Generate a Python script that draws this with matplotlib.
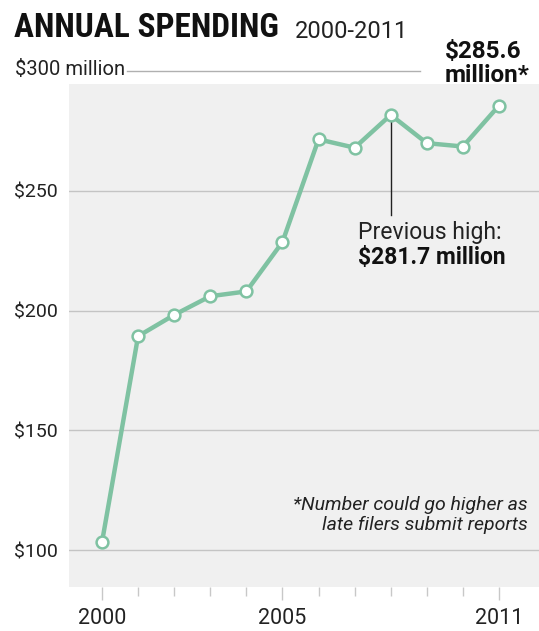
import matplotlib
matplotlib.use("Agg")
import matplotlib.pyplot as plt

# annual spending, $ millions
years = [2000, 2001, 2002, 2003, 2004, 2005, 2006, 2007, 2008, 2009, 2010, 2011]
spending = [103.3, 189.3, 198.2, 206.0, 208.0, 228.6, 271.5, 268.0, 281.7, 269.9, 268.5, 285.6]
ytick_vals = [100, 150, 200, 250]
ytick_labels = ["$100", "$150", "$200", "$250"]
xtick_major = [2000, 2005, 2011]

green = "#7fc2a2"
plt.rcParams['font.family'] = ['Roboto', 'DejaVu Sans']

fig = plt.figure(figsize=(5.39, 6.31), dpi=100)
W, H = 539, 631
ax = fig.add_axes([69 / W, 1 - 587 / H, 470 / W, (587 - 84) / H])
ax.set_facecolor("#f0f0f0")
for s in ax.spines.values():
    s.set_visible(False)

ax.set_xlim(1999.086, 2012.108)
ax.set_ylim(84.6, 294.6)

for v in ytick_vals:
    ax.axhline(v, color="#c4c4c4", lw=1, zorder=1)
# $300 line sits above the shaded area
ax.axhline(300, xmin=(127 - 69) / 470, xmax=(420 - 69) / 470, color="#b0b0b0", lw=1, clip_on=False)

ax.set_yticks(ytick_vals)
ax.set_yticklabels(ytick_labels, fontsize=14, color="#222222")
ax.tick_params(axis="y", length=0, pad=8)

ax.set_xticks(xtick_major)
ax.set_xticklabels([str(x) for x in xtick_major], fontsize=15.5, color="#222222")
ax.set_xticks(years, minor=True)
ax.tick_params(axis="x", which="major", length=9, width=1, color="#c8c8c8", pad=6)
ax.tick_params(axis="x", which="minor", length=6.5, width=1, color="#c8c8c8")

ax.plot(years, spending, color=green, lw=3.2, marker="o", ms=8.5,
        mfc="white", mec=green, mew=1.8, zorder=3, clip_on=False)

# previous high callout
ax.plot([2008, 2008], [281.7, 240], color="#222222", lw=1, zorder=2)
ax.text(2007.1, 232.5, "Previous high:", fontsize=16.5, color="#222222", va="center")
ax.text(2007.1, 222.1, "$281.7 million", fontsize=16.5, fontweight="bold", color="#111111", va="center")

ax.text(528 / W, 1 - 515 / H, "*Number could go higher as\nlate filers submit reports",
        transform=fig.transFigure, ha="right", va="center", fontsize=14,
        style="italic", color="#222222", linespacing=1.1)

# titles
title = fig.text(14 / W, 1 - 37 / H, "ANNUAL SPENDING", fontsize=26, fontweight="bold",
                 fontstretch="condensed", color="#111111", va="baseline",
                 family=['Roboto Condensed', 'Liberation Sans Narrow', 'Roboto'])
# squeeze the title to the width it has in the print graphic
fig.canvas.draw()
w = title.get_window_extent().width
title.set_fontsize(26 * 266 / w)

fig.text(295 / W, 1 - 38 / H, "2000-2011", fontsize=17, color="#222222", va="baseline")
fig.text(15 / W, 1 - 69.5 / H, "$300 million", fontsize=14.5, color="#222222", va="center")
fig.text(445 / W, 1 - 40 / H, "$285.6\nmillion*", fontsize=17.5, fontweight="bold",
         color="#111111", ha="left", va="top", linespacing=1.08)

fig.savefig("out.png", dpi=100, facecolor="white")
